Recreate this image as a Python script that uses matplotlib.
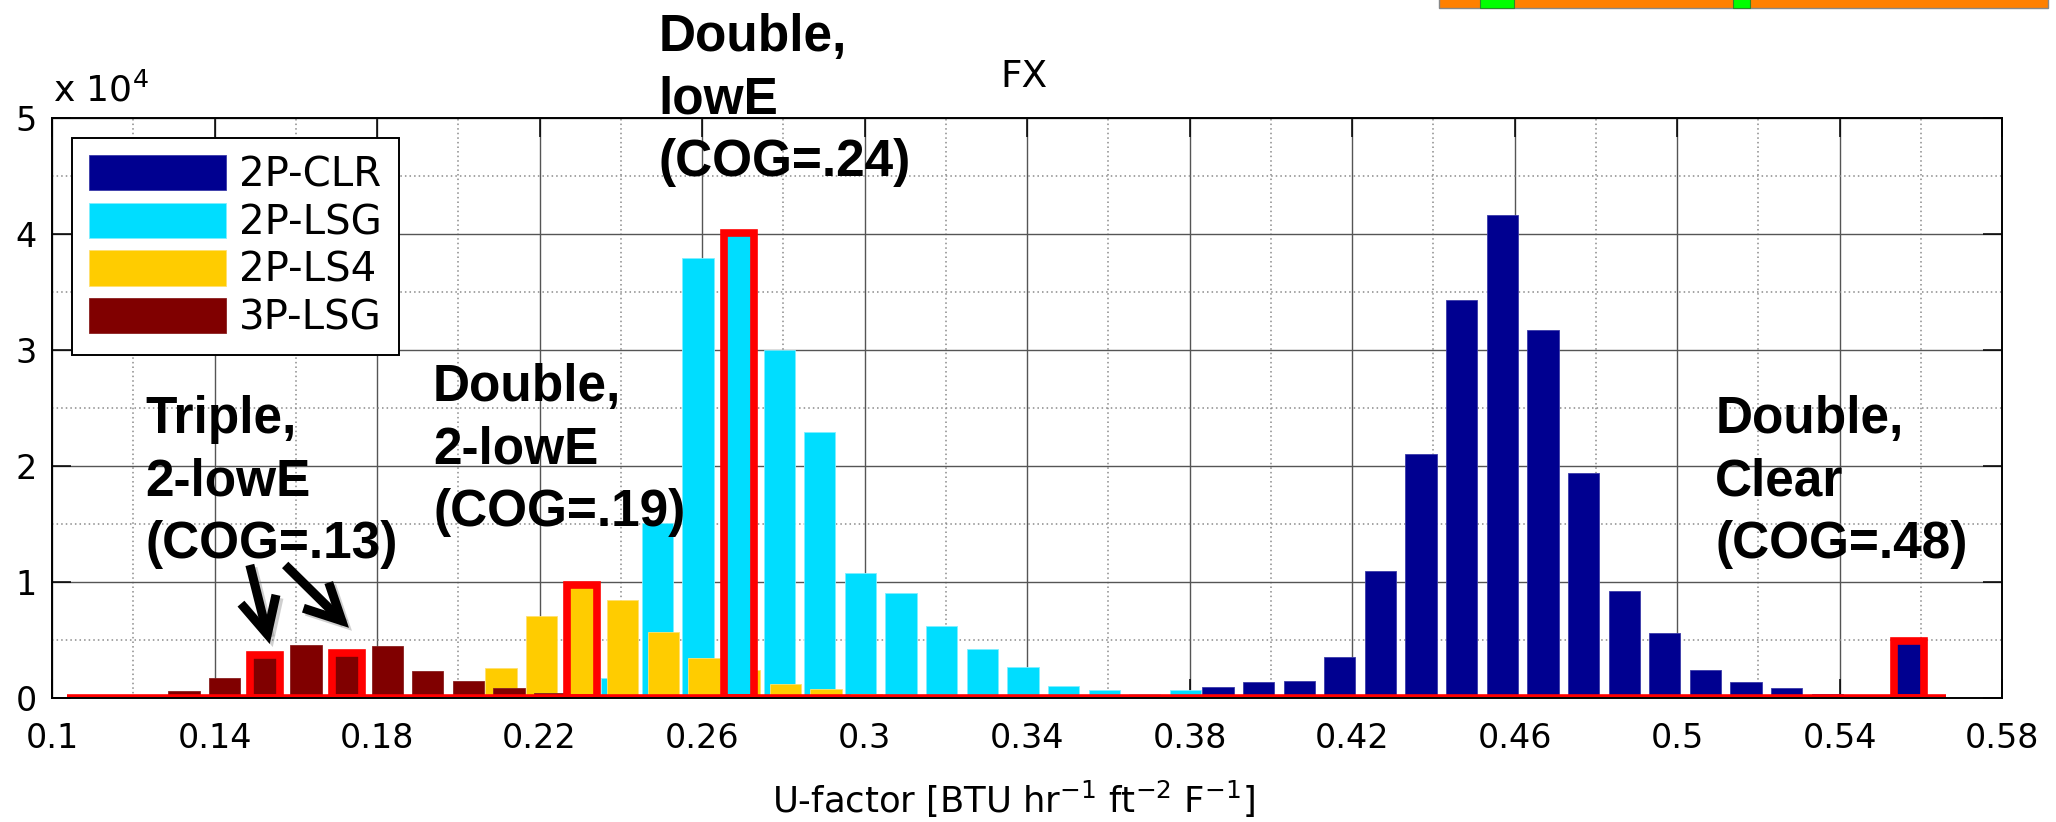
import matplotlib
matplotlib.use('Agg')
import matplotlib.pyplot as plt
import matplotlib.transforms as mtransforms
from matplotlib.patches import FancyArrowPatch, Rectangle

# histogram bin centres (U-factor) and counts per glazing type
clr_u = [0.387, 0.397, 0.407, 0.417, 0.427, 0.437, 0.447, 0.457, 0.467,
         0.477, 0.487, 0.497, 0.507, 0.517, 0.527, 0.537, 0.557]
clr_n = [950, 1380, 1470, 3530, 10950, 21000, 34300, 41600, 31700,
         19400, 9200, 5600, 2400, 1400, 860, 350, 4900]

lsg_u = [0.239, 0.249, 0.259, 0.269, 0.279, 0.289, 0.299, 0.309,
         0.319, 0.329, 0.339, 0.349, 0.359, 0.369, 0.379]
lsg_n = [1700, 15100, 37900, 40100, 30000, 22900, 10750, 9080,
         6180, 4250, 2650, 1030, 660, 380, 660]

ls4_u = [0.2105, 0.2205, 0.2305, 0.2405, 0.2505, 0.2605, 0.2705,
         0.2805, 0.2905, 0.3005, 0.3105]
ls4_n = [2600, 7070, 9700, 8450, 5690, 3450, 2400, 1200, 800, 350, 200]

tp_u = [0.1325, 0.1425, 0.1525, 0.1625, 0.1725, 0.1825, 0.1925,
        0.2025, 0.2125, 0.2225]
tp_n = [600, 1750, 3700, 4570, 3900, 4480, 2330, 1440, 860, 400]

names = ['2P-CLR', '2P-LSG', '2P-LS4', '3P-LSG']
colors = ['#000090', '#00DDFF', '#FFCC00', '#800000']
edges = ['#3a3aa8', '#7fefff', '#ffe070', '#8a2020']
series = [(clr_u, clr_n), (lsg_u, lsg_n), (ls4_u, ls4_n), (tp_u, tp_n)]

# bins outlined in red: (series, bin)
picked = [(3, 2), (3, 4), (2, 2), (1, 3), (0, 16)]
picked_span = (0.1036, 0.5663)

xticks = [0.1, 0.14, 0.18, 0.22, 0.26, 0.3, 0.34, 0.38, 0.42, 0.46, 0.5, 0.54, 0.58]
xminor = [0.12, 0.16, 0.2, 0.24, 0.28, 0.32, 0.36, 0.4, 0.44, 0.48, 0.52, 0.56]
yticks = [0, 10000, 20000, 30000, 40000, 50000]
yminor = [5000, 15000, 25000, 35000, 45000]

W, H = 2056, 822
fig = plt.figure(figsize=(W / 100, H / 100), dpi=100)
ax = fig.add_axes([52 / W, 1 - 698 / H, 1950 / W, 580 / H])

bw = 0.0077
handles = []
for i, (u, n) in enumerate(series):
    b = ax.bar(u, n, width=bw, color=colors[i], edgecolor=edges[i],
               linewidth=0.6, zorder=2 + 0.1 * i, label=names[i])
    handles.append(b)

# red outlined bins, filled with their own series colour
for s, k in picked:
    u, n = series[s]
    ax.bar(u[k], n[k], width=0.0074, color=colors[s], edgecolor='#FF0000',
           linewidth=5.5, zorder=2.6)

lift = mtransforms.offset_copy(ax.transData, fig=fig, x=0, y=2.5, units='dots')
ax.hlines(0, picked_span[0], picked_span[1], colors='#FF0000', linewidth=2.6,
          transform=lift, zorder=2.7)

ax.set_xlim(0.1, 0.58)
ax.set_ylim(0, 50000)
ax.set_xticks(xticks)
ax.set_xticklabels([('%g' % v) for v in xticks])
ax.set_xticks(xminor, minor=True)
ax.set_yticks(yticks)
ax.set_yticklabels([str(v // 10000) for v in yticks])
ax.set_yticks(yminor, minor=True)

ax.set_axisbelow(True)
ax.grid(True, which='major', color='#555555', linewidth=1.0, linestyle='-')
ax.grid(True, which='minor', color='#8a8a8a', linewidth=1.1, linestyle=(0, (1, 2)))
ax.tick_params(which='major', direction='in', length=13.5, width=1.1,
               top=True, right=True, labelsize=24, color='black')
ax.tick_params(which='minor', length=0)
ax.tick_params(axis='x', which='major', pad=17)
ax.tick_params(axis='y', which='major', pad=11)
for sp in ax.spines.values():
    sp.set_linewidth(1.4)
    sp.set_zorder(3)

ax.set_xlabel('U-factor [BTU hr$^{-1}$ ft$^{-2}$ F$^{-1}$]', fontsize=25.5)
ax.xaxis.set_label_coords((1013 - 52) / 1950, (698 - 813) / 580)
ax.xaxis.label.set_va('baseline')

fig.text(1024 / W, 1 - 87 / H, 'FX', fontsize=27, ha='center', va='baseline')
fig.text(53 / W, 1 - 102 / H, 'x 10$^{4}$', fontsize=26, va='baseline')

leg = ax.legend(handles=handles, loc='upper left',
                bbox_to_anchor=((72 - 52) / 1950, (698 - 138) / 580),
                borderaxespad=0, fontsize=29, handlelength=3.4,
                handleheight=0.97, handletextpad=0.33, labelspacing=0.18,
                borderpad=0.42, fancybox=False, framealpha=1,
                edgecolor='black')
leg.get_frame().set_linewidth(1.4)
leg.set_zorder(5)

# bold callouts for the glazing types
notes = [
    ('Double,\nlowE\n(COG=.24)', 0.2492, 59050),
    ('Triple,\n2-lowE\n(COG=.13)', 0.1229, 26120),
    ('Double,\n2-lowE\n(COG=.19)', 0.1938, 28880),
    ('Double,\nClear\n(COG=.48)', 0.5094, 26120),
]
for txt, x, y in notes:
    ax.text(x, y, txt, fontsize=37, fontweight='bold', family='Liberation Sans',
            ha='left', va='top', linespacing=1.35, zorder=6, clip_on=False)

# arrows from the triple-glazing callout to its outlined bins
arrows = [((0.1487, 11470), (0.1536, 4650)),
          ((0.1574, 11470), (0.1731, 6050))]
shadow = mtransforms.offset_copy(ax.transData, fig=fig, x=3, y=-3, units='dots')
for (a, b) in arrows:
    for tr, col, al in [(shadow, '#777777', 0.35), (ax.transData, 'black', 1.0)]:
        ar = FancyArrowPatch(a, b, transform=tr,
                             arrowstyle='->,head_length=26,head_width=13',
                             mutation_scale=1, linewidth=6.5, color=col,
                             alpha=al, shrinkA=0, shrinkB=0, zorder=6,
                             capstyle='butt', joinstyle='miter')
        ax.add_patch(ar)

# thin orange/green strip along the top edge
strip_y = 1 - 8.3 / H
fig.add_artist(Rectangle((1439 / W, strip_y), (2048 - 1439) / W, 0.02,
                         transform=fig.transFigure, facecolor='#FF8000',
                         edgecolor='#888888', linewidth=1.0))
for x0, x1 in [(1480, 1514), (1733, 1750)]:
    fig.add_artist(Rectangle((x0 / W, strip_y), (x1 - x0) / W, 0.02,
                             transform=fig.transFigure, facecolor='#00FF00',
                             edgecolor='#2a8a2a', linewidth=0.8))

fig.savefig('out.png', dpi=100)
